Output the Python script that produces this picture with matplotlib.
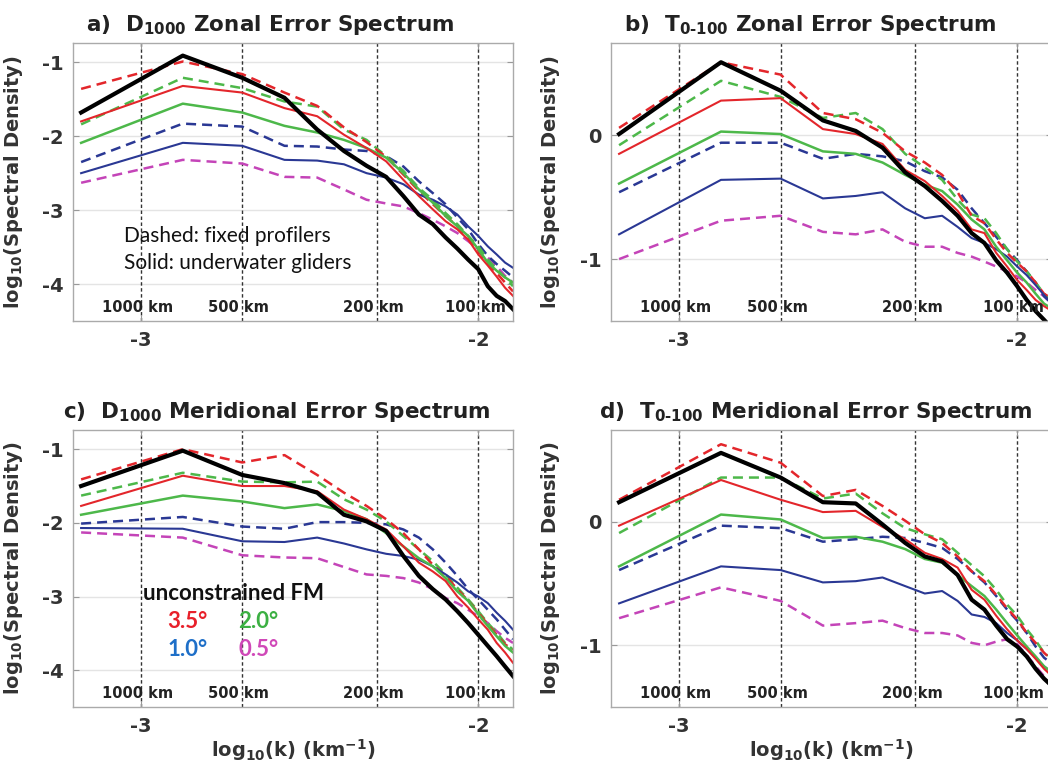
import numpy as np
import matplotlib
matplotlib.use('Agg')
import matplotlib.pyplot as plt
import matplotlib.transforms as mtransforms

plt.rcParams['mathtext.default'] = 'bf'
plt.rcParams['font.family'] = 'DejaVu Sans'

# wavenumber grid: mode number n over a 1500 km domain
modes = [1, 2, 3, 4, 5, 6, 7, 8, 9, 10, 11, 12, 13, 14, 15, 16, 17, 18, 19]
domain_km = 1500.0
wavelengths_km = [1000, 500, 200, 100]
wavelength_labels = ['1000 km', '500 km', '200 km', '100 km']

# a) D1000 zonal
a_black = [-1.68, -0.91, -1.21, -1.48, -1.91, -2.20, -2.40, -2.55, -2.81, -3.06, -3.19, -3.37, -3.52, -3.67, -3.80, -4.03, -4.16, -4.23, -4.34]
a_red_dash = [-1.36, -0.99, -1.16, -1.41, -1.59, -1.88, -2.08, -2.28, -2.52, -2.74, -2.92, -3.08, -3.22, -3.38, -3.55, -3.72, -3.85, -3.98, -4.10]
a_red = [-1.80, -1.32, -1.41, -1.62, -1.73, -1.98, -2.16, -2.34, -2.59, -2.81, -2.99, -3.15, -3.26, -3.40, -3.60, -3.75, -3.90, -4.05, -4.16]
a_green_dash = [-1.84, -1.21, -1.35, -1.53, -1.60, -1.91, -2.05, -2.27, -2.47, -2.70, -2.86, -3.04, -3.19, -3.35, -3.49, -3.67, -3.80, -3.91, -4.03]
a_green = [-2.09, -1.56, -1.68, -1.86, -1.95, -2.05, -2.16, -2.29, -2.50, -2.72, -2.90, -3.08, -3.22, -3.35, -3.53, -3.71, -3.82, -3.91, -3.98]
a_blue_dash = [-2.35, -1.83, -1.87, -2.13, -2.14, -2.18, -2.20, -2.27, -2.41, -2.61, -2.77, -2.92, -3.10, -3.26, -3.46, -3.62, -3.73, -3.82, -3.91]
a_blue = [-2.50, -2.09, -2.13, -2.32, -2.33, -2.38, -2.50, -2.56, -2.65, -2.79, -2.86, -2.95, -3.06, -3.22, -3.35, -3.49, -3.60, -3.71, -3.78]
a_mag_dash = [-2.63, -2.32, -2.37, -2.55, -2.56, -2.72, -2.86, -2.91, -2.95, -3.04, -3.13, -3.22, -3.31, -3.42, -3.53, -3.64, -3.76, -3.89, -3.98]

# b) T0-100 zonal
b_black = [0.01, 0.59, 0.36, 0.12, 0.035, -0.10, -0.30, -0.41, -0.53, -0.65, -0.79, -0.87, -1.01, -1.11, -1.22, -1.33, -1.42, -1.49, -1.56]
b_red_dash = [0.06, 0.59, 0.49, 0.18, 0.13, 0.02, -0.13, -0.22, -0.32, -0.46, -0.65, -0.71, -0.84, -0.95, -1.03, -1.10, -1.19, -1.28, -1.32]
b_red = [-0.15, 0.28, 0.30, 0.05, 0.01, -0.07, -0.28, -0.37, -0.49, -0.61, -0.76, -0.79, -0.95, -1.06, -1.17, -1.25, -1.33, -1.38, -1.42]
b_green_dash = [-0.08, 0.44, 0.31, 0.14, 0.18, 0.05, -0.15, -0.26, -0.36, -0.52, -0.64, -0.67, -0.79, -0.92, -1.02, -1.10, -1.19, -1.28, -1.34]
b_green = [-0.39, 0.03, 0.01, -0.13, -0.15, -0.22, -0.32, -0.40, -0.45, -0.56, -0.68, -0.76, -0.90, -1.01, -1.11, -1.19, -1.28, -1.36, -1.40]
b_blue_dash = [-0.46, -0.06, -0.06, -0.19, -0.15, -0.17, -0.21, -0.29, -0.34, -0.44, -0.59, -0.71, -0.82, -0.92, -1.01, -1.10, -1.19, -1.30, -1.36]
b_blue = [-0.80, -0.36, -0.35, -0.51, -0.49, -0.46, -0.59, -0.67, -0.65, -0.74, -0.83, -0.87, -0.92, -0.98, -1.06, -1.13, -1.21, -1.29, -1.36]
b_mag_dash = [-1.00, -0.69, -0.65, -0.78, -0.80, -0.76, -0.86, -0.90, -0.90, -0.95, -0.98, -1.02, -1.06, -1.10, -1.14, -1.19, -1.25, -1.30, -1.36]

# c) D1000 meridional
c_black = [-1.50, -1.02, -1.35, -1.46, -1.59, -1.89, -1.98, -2.11, -2.45, -2.72, -2.90, -3.04, -3.20, -3.36, -3.52, -3.67, -3.81, -3.95, -4.08]
c_red_dash = [-1.41, -1.00, -1.18, -1.08, -1.35, -1.59, -1.77, -1.95, -2.14, -2.36, -2.57, -2.72, -2.90, -3.06, -3.22, -3.38, -3.52, -3.65, -3.72]
c_red = [-1.77, -1.36, -1.50, -1.50, -1.57, -1.82, -1.95, -2.09, -2.32, -2.54, -2.66, -2.79, -3.00, -3.15, -3.31, -3.45, -3.63, -3.76, -3.90]
c_green_dash = [-1.63, -1.32, -1.44, -1.45, -1.44, -1.68, -1.82, -1.98, -2.18, -2.36, -2.52, -2.70, -2.88, -3.04, -3.20, -3.36, -3.49, -3.63, -3.72]
c_green = [-1.89, -1.63, -1.71, -1.80, -1.75, -1.84, -1.95, -2.14, -2.32, -2.48, -2.59, -2.75, -2.93, -3.06, -3.24, -3.40, -3.54, -3.67, -3.76]
c_blue_dash = [-2.01, -1.92, -2.05, -2.08, -1.99, -1.99, -2.00, -2.02, -2.09, -2.20, -2.36, -2.54, -2.72, -2.90, -3.04, -3.18, -3.31, -3.45, -3.58]
c_blue = [-2.07, -2.08, -2.25, -2.26, -2.20, -2.28, -2.36, -2.42, -2.45, -2.50, -2.59, -2.70, -2.81, -2.93, -3.00, -3.09, -3.22, -3.33, -3.45]
c_mag_dash = [-2.13, -2.20, -2.44, -2.47, -2.48, -2.60, -2.70, -2.72, -2.75, -2.81, -2.90, -3.02, -3.09, -3.18, -3.27, -3.36, -3.47, -3.56, -3.63]

# d) T0-100 meridional
d_black = [0.16, 0.56, 0.36, 0.16, 0.15, -0.02, -0.17, -0.28, -0.32, -0.43, -0.63, -0.71, -0.84, -0.95, -1.01, -1.09, -1.19, -1.27, -1.33]
d_red_dash = [0.18, 0.63, 0.48, 0.21, 0.26, 0.13, 0.01, -0.10, -0.17, -0.28, -0.40, -0.48, -0.59, -0.70, -0.79, -0.90, -0.98, -1.06, -1.12]
d_red = [-0.03, 0.34, 0.18, 0.08, 0.09, -0.04, -0.14, -0.25, -0.30, -0.37, -0.55, -0.63, -0.76, -0.87, -0.96, -1.03, -1.11, -1.19, -1.25]
d_green_dash = [-0.09, 0.36, 0.36, 0.19, 0.23, 0.07, -0.05, -0.10, -0.14, -0.25, -0.35, -0.44, -0.55, -0.67, -0.76, -0.87, -0.96, -1.06, -1.10]
d_green = [-0.36, 0.06, 0.02, -0.13, -0.12, -0.16, -0.22, -0.30, -0.33, -0.43, -0.52, -0.60, -0.71, -0.82, -0.92, -1.01, -1.09, -1.17, -1.22]
d_blue_dash = [-0.39, -0.03, -0.05, -0.16, -0.14, -0.12, -0.13, -0.17, -0.21, -0.30, -0.40, -0.49, -0.60, -0.71, -0.80, -0.90, -1.01, -1.10, -1.15]
d_blue = [-0.66, -0.36, -0.39, -0.49, -0.48, -0.45, -0.52, -0.58, -0.56, -0.64, -0.75, -0.77, -0.82, -0.90, -0.96, -1.03, -1.10, -1.17, -1.22]
d_mag_dash = [-0.78, -0.53, -0.64, -0.84, -0.82, -0.80, -0.86, -0.90, -0.90, -0.92, -0.98, -1.00, -0.97, -0.95, -0.99, -1.08, -1.17, -1.25, -1.30]

RED = '#e3262b'
GREEN = '#4db84a'
BLUE = '#2a3894'
MAG = '#c444b8'

logk = np.log10(np.array(modes) / domain_km)
xlim = (-3.2, np.log10(modes[-1] / domain_km))

fig = plt.figure(figsize=(10.48, 7.70), dpi=100)

def draw_panel(rect, series, ylim, yticks, title_tag, title_var, title_rest, title_x):
    ax = fig.add_axes(rect)
    black, red_d, red, green_d, green, blue_d, blue, mag_d = series
    ax.set_xlim(*xlim)
    ax.set_ylim(*ylim)
    for y in yticks:
        ax.axhline(y, color='#e4e4e4', lw=1.0, zorder=0)
    for L in wavelengths_km:
        ax.axvline(np.log10(1.0 / L), color='#333333', lw=1.0, dashes=(2.5, 1.8), zorder=1)
    dash = (4.0, 2.4)
    ax.plot(logk, mag_d, color=MAG, lw=1.8, dashes=dash)
    ax.plot(logk, blue_d, color=BLUE, lw=1.8, dashes=dash)
    ax.plot(logk, green_d, color=GREEN, lw=1.8, dashes=dash)
    ax.plot(logk, red_d, color=RED, lw=1.8, dashes=dash)
    ax.plot(logk, blue, color=BLUE, lw=1.5)
    ax.plot(logk, green, color=GREEN, lw=1.8)
    ax.plot(logk, red, color=RED, lw=1.5)
    ax.plot(logk, black, color='black', lw=3.0)
    trans = mtransforms.blended_transform_factory(ax.transData, ax.transAxes)
    for L, lab in zip(wavelengths_km, wavelength_labels):
        ax.text(np.log10(1.0 / L) - 0.01, 0.05, lab, transform=trans, ha='center',
                va='center', fontsize=10.5, fontweight='bold', color='#222222')
    ax.set_xticks([-3, -2])
    ax.set_xticklabels(['-3', '-2'])
    ax.set_yticks(yticks)
    ax.set_yticklabels([str(int(v)) for v in yticks])
    ax.tick_params(direction='in', length=4, width=0.8, color='#999999',
                   labelsize=14, labelcolor='#333333', top=True, right=True, pad=7)
    for lab in ax.get_xticklabels() + ax.get_yticklabels():
        lab.set_fontweight('bold')
    for s in ax.spines.values():
        s.set_color('#aaaaaa')
        s.set_linewidth(1.0)
    ax.set_ylabel(r'log$_{10}$(Spectral Density)', fontsize=14, fontweight='bold', color='#333333')
    ax.yaxis.set_label_coords(-0.11, 0.5)
    top = rect[1] + rect[3]
    fig.text(title_x, top + 0.016, title_tag + '  ' + title_var + ' ' + title_rest,
             fontsize=15.5, fontweight='bold', color='#222222', va='baseline', ha='left')
    return ax

ax_a = draw_panel([0.0697, 0.5831, 0.4198, 0.3610],
                  [a_black, a_red_dash, a_red, a_green_dash, a_green, a_blue_dash, a_blue, a_mag_dash],
                  (-4.5, -0.74), [-4, -3, -2, -1], 'a)', r'D$_{1000}$', 'Zonal Error Spectrum', 0.082)
ax_b = draw_panel([0.5830, 0.5831, 0.4208, 0.3610],
                  [b_black, b_red_dash, b_red, b_green_dash, b_green, b_blue_dash, b_blue, b_mag_dash],
                  (-1.5, 0.745), [-1, 0], 'b)', 'T$_{0\u2010100}$', 'Zonal Error Spectrum', 0.595)
ax_c = draw_panel([0.0697, 0.0818, 0.4198, 0.3597],
                  [c_black, c_red_dash, c_red, c_green_dash, c_green, c_blue_dash, c_blue, c_mag_dash],
                  (-4.5, -0.74), [-4, -3, -2, -1], 'c)', r'D$_{1000}$', 'Meridional Error Spectrum', 0.060)
ax_d = draw_panel([0.5830, 0.0818, 0.4208, 0.3597],
                  [d_black, d_red_dash, d_red, d_green_dash, d_green, d_blue_dash, d_blue, d_mag_dash],
                  (-1.5, 0.745), [-1, 0], 'd)', 'T$_{0\u2010100}$', 'Meridional Error Spectrum', 0.572)

for ax in (ax_c, ax_d):
    ax.set_xlabel(r'log$_{10}$(k) (km$^{-1}$)', fontsize=14, fontweight='bold', color='#333333', labelpad=1)

ax_a.text(0.115, 0.285, 'Dashed: fixed profilers', transform=ax_a.transAxes,
          fontsize=15, family='Lato', color='#111111', va='baseline')
ax_a.text(0.115, 0.188, 'Solid: underwater gliders', transform=ax_a.transAxes,
          fontsize=15, family='Lato', color='#111111', va='baseline')

ax_c.text(0.16, 0.385, 'unconstrained FM', transform=ax_c.transAxes,
          fontsize=16, family='Lato', fontweight='bold', color='#111111', va='baseline')
ax_c.text(0.215, 0.285, '3.5°', transform=ax_c.transAxes, fontsize=16, family='Lato',
          fontweight='bold', color='#e8202a', va='baseline')
ax_c.text(0.375, 0.285, '2.0°', transform=ax_c.transAxes, fontsize=16, family='Lato',
          fontweight='bold', color='#3cb043', va='baseline')
ax_c.text(0.215, 0.185, '1.0°', transform=ax_c.transAxes, fontsize=16, family='Lato',
          fontweight='bold', color='#1e6fc8', va='baseline')
ax_c.text(0.375, 0.185, '0.5°', transform=ax_c.transAxes, fontsize=16, family='Lato',
          fontweight='bold', color='#d048b8', va='baseline')

fig.savefig('out.png', dpi=100)
